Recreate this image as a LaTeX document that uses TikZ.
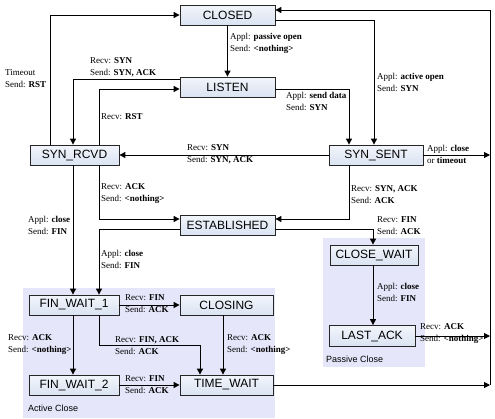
\documentclass[tikz,border=0pt]{standalone}
\usepackage{fontspec}
\setmainfont{Liberation Serif}
\newfontfamily\sansf{Liberation Sans}
\usetikzlibrary{arrows.meta}
\definecolor{boxtop}{HTML}{F2F5FB}
\definecolor{boxbot}{HTML}{DAE3F2}
\definecolor{areabg}{HTML}{E6E6FA}
\tikzset{
  state/.style={draw=black!85, line width=0.8pt, top color=boxtop, bottom color=boxbot,
    minimum height=20pt, inner sep=0pt, font=\sansf\fontsize{12}{14}\selectfont},
  lbl/.style={font=\fontsize{9}{12}\selectfont, align=left, anchor=west, inner sep=0pt},
  arr/.style={line width=1pt, -{Triangle[length=6pt,width=6pt]}},
  ln/.style={line width=1pt},
  area/.style={fill=areabg, draw=none},
  arealbl/.style={font=\sansf\fontsize{9}{11}\selectfont, anchor=west, inner sep=0pt}
}
\begin{document}
\begin{tikzpicture}[x=1pt,y=-1pt]
\useasboundingbox (0,0) rectangle (495,418);
% areas
\fill[area] (23,288) rectangle (275,418);
\fill[area] (323,238) rectangle (425,367);
\node[arealbl] (activelbl) at (28,408) {Active Close};
\node[arealbl] (passivelbl) at (326,359) {Passive Close};
% states
\node[state, minimum width=95pt] (CLOSED) at (227.5,15) {CLOSED};
\node[state, minimum width=95pt] (LISTEN) at (227.5,87) {LISTEN};
\node[state, minimum width=89pt] (SYNRCVD) at (74.5,155) {SYN\_RCVD};
\node[state, minimum width=94pt] (SYNSENT) at (376,155) {SYN\_SENT};
\node[state, minimum width=95pt] (EST) at (227.5,225) {ESTABLISHED};
\node[state, minimum width=88pt] (CW) at (374,255) {CLOSE\_WAIT};
\node[state, minimum width=86pt, minimum height=21pt] (LA) at (372,336) {LAST\_ACK};
\node[state, minimum width=90pt] (FW1) at (74,305) {FIN\_WAIT\_1};
\node[state, minimum width=93pt] (CLOSING) at (226.5,305) {CLOSING};
\node[state, minimum width=90pt] (FW2) at (74,385) {FIN\_WAIT\_2};
\node[state, minimum width=93pt] (TW) at (226.5,385) {TIME\_WAIT};
\coordinate (bus) at (490,0);
% connectors
\draw[arr] (CLOSED) -- (LISTEN);
\draw[arr] (CLOSED.east |- 0,20) -| (374,0 |- SYNSENT.north);
\draw[arr] (50,0 |- SYNRCVD.north) |- (CLOSED.west);
\draw[arr] (LISTEN.west |- 0,79) -| (73,0 |- SYNRCVD.north);
\draw[arr] (99,0 |- SYNRCVD.north) |- (LISTEN.west |- 0,89);
\draw[arr] (LISTEN.east |- 0,89) -| (349,0 |- SYNSENT.north);
\draw[arr] (SYNSENT.west) -- (SYNRCVD.east);
\draw[arr] (SYNSENT.east) -- (SYNSENT.east -| bus);
\draw[arr] (99,0 |- SYNRCVD.south) |- (EST.west |- 0,219);
\draw[arr] (349,0 |- SYNSENT.south) |- (EST.east |- 0,219);
\draw[arr] (73,0 |- SYNRCVD.south) -- (73,0 |- FW1.north);
\draw[arr] (EST.west |- 0,229) -| (99,0 |- FW1.north);
\draw[arr] (EST.east |- 0,229) -| (373,0 |- CW.north);
\draw[arr] (373,0 |- CW.south) -- (373,0 |- LA.north);
\draw[arr] (LA.east) -- (LA.east -| bus);
\draw[arr] (FW1.east) -- (CLOSING.west);
\draw[arr] (73,0 |- FW1.south) -- (73,0 |- FW2.north);
\draw[arr] (99,0 |- FW1.south) |- (200,345) -- (200,0 |- TW.north);
\draw[arr] (223,0 |- CLOSING.south) -- (223,0 |- TW.north);
\draw[arr] (FW2.east) -- (TW.west);
\draw[arr] (TW.east) -- (TW.east -| bus);
\draw[arr] (TW.east -| bus) -- (bus |- 0,10) -- (CLOSED.east |- 0,10);
% labels
\node[lbl] (l1) at (230,43) {Appl: \textbf{passive open}\\Send: \textbf{<nothing>}};
\node[lbl] (l2) at (377,82) {Appl: \textbf{active open}\\Send: \textbf{SYN}};
\node[lbl] (l3) at (5,79) {Timeout\\Send: \textbf{RST}};
\node[lbl] (l4) at (90,67) {Recv: \textbf{SYN}\\Send: \textbf{SYN, ACK}};
\node[lbl] (l5) at (101,117) {Recv: \textbf{RST}};
\node[lbl] (l6) at (286,101) {Appl: \textbf{send data}\\Send: \textbf{SYN}};
\node[lbl] (l7) at (187,154.5) {Recv: \textbf{SYN}\\Send: \textbf{SYN, ACK}};
\node[lbl] (l8) at (427,154) {Appl: \textbf{close}\\or \textbf{timeout}};
\node[lbl] (l9) at (101,194) {Recv: \textbf{ACK}\\Send: \textbf{<nothing>}};
\node[lbl] (l10) at (351,194.5) {Recv: \textbf{SYN, ACK}\\Send: \textbf{ACK}};
\node[lbl] (l11) at (28,225.5) {Appl: \textbf{close}\\Send: \textbf{FIN}};
\node[lbl] (l12) at (101,259) {Appl: \textbf{close}\\Send: \textbf{FIN}};
\node[lbl] (l13) at (377,226) {Recv: \textbf{FIN}\\Send: \textbf{ACK}};
\node[lbl] (l14) at (377,292) {Appl: \textbf{close}\\Send: \textbf{FIN}};
\node[lbl] (l15) at (420,334) {Recv: \textbf{ACK}\\Send: \textbf{<nothing>}};
\node[lbl] (l16) at (125,303.5) {Recv: \textbf{FIN}\\Send: \textbf{ACK}};
\node[lbl] (l17) at (8,345) {Recv: \textbf{ACK}\\Send: \textbf{<nothing>}};
\node[lbl] (l18) at (115,345.5) {Recv: \textbf{FIN, ACK}\\Send: \textbf{ACK}};
\node[lbl] (l19) at (227,345) {Recv: \textbf{ACK}\\Send: \textbf{<nothing>}};
\node[lbl] (l20) at (125,385) {Recv: \textbf{FIN}\\Send: \textbf{ACK}};
\end{tikzpicture}
\end{document}
